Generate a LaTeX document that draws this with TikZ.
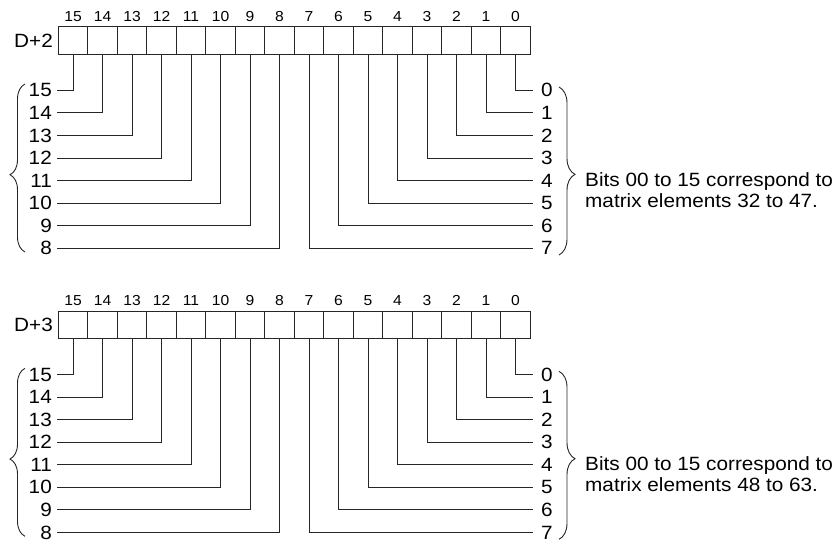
\documentclass[tikz,border=0pt]{standalone}
\usepackage{fontspec}
\setmainfont[FakeStretch=1.08]{Liberation Sans}
\usetikzlibrary{decorations.pathreplacing}
\tikzset{
  ln/.style={draw=black!85, line width=0.9pt},
  cell/.style={ln, minimum width=29.5pt, minimum height=27.3pt, inner sep=0pt, outer sep=0pt},
  big/.style={inner sep=0pt, font=\fontsize{19.2}{21}\selectfont},
  bitnum/.style={inner sep=0pt, font=\fontsize{14.5}{16}\selectfont},
  bracestyle/.style={ln, decorate},
}
\begin{document}
\begin{tikzpicture}[x=1pt, y=-1pt]
\useasboundingbox (0,0) rectangle (840,542);
\foreach \reg/\oy/\ea/\eb in {2/0/32/47, 3/284.3/48/63} {
  \node[big, anchor=east] (d\reg) at (53, 40.5+\oy) {D+\reg};
  \foreach \b in {0,...,15} {
    \pgfmathsetmacro\cx{58.3+(15.5-\b)*29.5}
    \node[cell] (c\reg-\b) at (\cx, 40.5+\oy) {};
    \node[bitnum] (n\reg-\b) at (\cx, 16.5+\oy) {\b};
  }
  \foreach \b in {8,...,15} {
    \pgfmathsetmacro\cy{90.3+22.55*(15-\b)+\oy}
    \node[big, anchor=east] (l\reg-\b) at (52, \cy) {\b};
    \draw[ln] ([xshift=5pt]l\reg-\b.east) -| (c\reg-\b.south);
  }
  \foreach \b in {0,...,7} {
    \pgfmathsetmacro\cy{90.3+22.55*\b+\oy}
    \node[big, anchor=west] (r\reg-\b) at (541, \cy) {\b};
    \draw[ln] (c\reg-\b.south) |- ([xshift=-8pt]r\reg-\b.west);
  }
  \coordinate (lbA\reg) at (25, 252+\oy);
  \coordinate (lbB\reg) at (25, 84+\oy);
  \draw[bracestyle, decoration={brace, amplitude=15pt, aspect=0.46}] (lbA\reg) -- (lbB\reg);
  \coordinate (rbA\reg) at (559, 87+\oy);
  \coordinate (rbB\reg) at (559, 255+\oy);
  \draw[bracestyle, decoration={brace, amplitude=16pt, aspect=0.52}] (rbA\reg) -- (rbB\reg);
  \node[big, anchor=base west] (t\reg a) at (585, 186.5+\oy) {Bits 00 to 15 correspond to};
  \node[big, anchor=base west] (t\reg b) at (585, 207.5+\oy) {matrix elements \ea\ to \eb.};
}
\end{tikzpicture}
\end{document}
